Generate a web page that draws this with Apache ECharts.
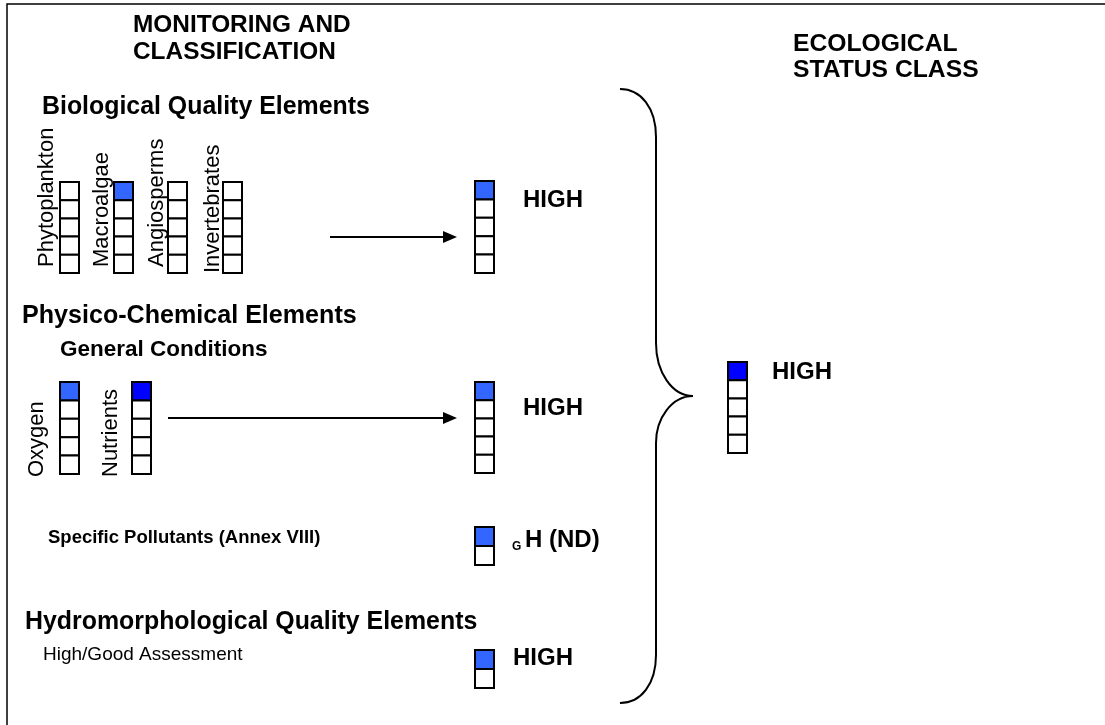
<!DOCTYPE html>
<html><head><meta charset="utf-8">
<script src="https://cdn.jsdelivr.net/npm/echarts@6/dist/echarts.min.js"></script>
<style>html,body{margin:0;padding:0;background:#fff}#c{width:1105px;height:725px}</style>
</head><body><div id="c"></div>
<script>
// ---------------- data ----------------
const bioCategories = ['Phytoplankton', 'Macroalgae', 'Angiosperms', 'Invertebrates'];
const bioStatus = [0, 1, 0, 0];            // class index filled (1 = High), 0 = none
const generalCategories = ['Oxygen', 'Nutrients'];
const generalStatus = [1, 1];
const resultNames = ['Biological', 'General Conditions', 'Specific Pollutants', 'Hydromorphological', 'Ecological Status'];
const resultClassCount = [5, 5, 2, 2, 5];
const resultStatus = [1, 1, 1, 1, 1];
const resultLabels = ['HIGH', 'HIGH', 'H (ND)', 'HIGH', 'HIGH'];
const resultPrefix = ['', '', 'G', '', ''];
const headings = ['MONITORING AND', 'CLASSIFICATION', 'ECOLOGICAL', 'STATUS CLASS',
  'Biological Quality Elements', 'Physico-Chemical Elements', 'General Conditions',
  'Specific Pollutants (Annex VIII)', 'Hydromorphological Quality Elements', 'High/Good Assessment'];

// ---------------- layout / style ----------------
const W = 1105, H = 725;
const FONT = '"Liberation Sans", Arial, sans-serif';
const CELL_W = 19;
const C_LIGHT = '#3366FF', C_DARK = '#0000FF';
const bioLayout = { x: [60, 114, 168, 223], top: 182, h: 18.2, color: [C_LIGHT, C_LIGHT, C_LIGHT, C_LIGHT],
  labelX: [47, 102, 157, 213], labelBottom: [267, 267, 267, 273] };
const genLayout = { x: [60, 132], top: 382, h: 18.4, color: [C_LIGHT, C_DARK],
  labelX: [37, 111], labelBottom: [477, 477] };
const resLayout = { x: [475, 475, 475, 475, 728], top: [181, 382, 527, 650, 362], h: [18.4, 18.2, 19, 19, 18.2],
  color: [C_LIGHT, C_LIGHT, C_LIGHT, C_LIGHT, C_DARK],
  labelX: [523, 523, 525, 513, 772], labelY: [200, 408, 540, 658, 372] };
const headLayout = [
  [133, 25, 24.4, 'bold'], [133, 52, 24.4, 'bold'], [793, 44, 24.7, 'bold'], [793, 70, 24.7, 'bold'],
  [42, 107, 24.9, 'bold'], [22, 316, 25.1, 'bold'], [60, 350, 22.5, 'bold'],
  [48, 538, 18.5, 'bold'], [25, 622, 24.9, 'bold'], [43, 655, 19, 'normal']
];
const arrowLayout = [[330, 457, 237], [168, 457, 418]];

// columns: [x, top, nCells, filled, cellH, colorIndex]
const columnColors = [];
const columnData = [];
function addCol(x, top, n, filled, h, color) {
  columnColors.push(color);
  columnData.push([x, top, n, filled, h, columnColors.length - 1]);
}
bioCategories.forEach((c, i) => addCol(bioLayout.x[i], bioLayout.top, 5, bioStatus[i], bioLayout.h, bioLayout.color[i]));
generalCategories.forEach((c, i) => addCol(genLayout.x[i], genLayout.top, 5, generalStatus[i], genLayout.h, genLayout.color[i]));
resultNames.forEach((c, i) => addCol(resLayout.x[i], resLayout.top[i], resultClassCount[i], resultStatus[i], resLayout.h[i], resLayout.color[i]));

// texts: [x, y, index]
const texts = [];
headings.forEach((t, i) => texts.push({ text: t, x: headLayout[i][0], y: headLayout[i][1], size: headLayout[i][2], weight: headLayout[i][3], rot: 0 }));
bioCategories.forEach((t, i) => texts.push({ text: t, x: bioLayout.labelX[i], y: bioLayout.labelBottom[i], size: 22, weight: 'normal', rot: Math.PI / 2 }));
generalCategories.forEach((t, i) => texts.push({ text: t, x: genLayout.labelX[i], y: genLayout.labelBottom[i], size: 22, weight: 'normal', rot: Math.PI / 2 }));
resultLabels.forEach((t, i) => {
  texts.push({ text: t, x: resLayout.labelX[i], y: resLayout.labelY[i], size: 24, weight: 'bold', rot: 0 });
  if (resultPrefix[i]) texts.push({ text: resultPrefix[i], x: resLayout.labelX[i] - 13, y: resLayout.labelY[i] + 7, size: 12, weight: 'bold', rot: 0 });
});
const textData = texts.map((t, i) => [t.x, t.y, i]);

const chart = echarts.init(document.getElementById('c'), null, { renderer: 'canvas' });
chart.setOption({
  animation: false,
  backgroundColor: '#fff',
  grid: { left: 0, right: 0, top: 0, bottom: 0 },
  xAxis: { type: 'value', min: 0, max: W, show: false },
  yAxis: { type: 'value', min: 0, max: H, inverse: true, show: false },
  series: [
    { // frame + brace
      type: 'custom', clip: false, silent: true, data: [[0, 0]],
      renderItem: function (params, api) {
        const c = (x, y) => api.coord([x, y]);
        const a = c(7, 4), b = c(W + 10, H + 10);
        const P = (x, y) => { const p = c(x, y); return p[0] + ' ' + p[1]; };
        const d = 'M' + P(620, 89) + ' C' + P(641, 89) + ' ' + P(656, 108) + ' ' + P(656, 137) +
          ' L' + P(656, 343) + ' C' + P(656, 372) + ' ' + P(672, 396) + ' ' + P(693, 396) +
          ' C' + P(672, 396) + ' ' + P(656, 418) + ' ' + P(656, 443) +
          ' L' + P(656, 655) + ' C' + P(656, 684) + ' ' + P(641, 703) + ' ' + P(620, 703);
        return { type: 'group', children: [
          { type: 'rect', shape: { x: a[0], y: a[1], width: b[0] - a[0], height: b[1] - a[1] }, style: { fill: 'none', stroke: '#000', lineWidth: 1.5 } },
          { type: 'path', shape: { pathData: d }, style: { fill: 'none', stroke: '#000', lineWidth: 2 } }
        ] };
      }
    },
    { // arrows
      type: 'custom', clip: false, silent: true, data: arrowLayout,
      renderItem: function (params, api) {
        const x1 = api.value(0), x2 = api.value(1), y = api.value(2);
        const p1 = api.coord([x1, y]), p2 = api.coord([x2, y]);
        const hl = 14, hw = 6;
        return { type: 'group', children: [
          { type: 'line', shape: { x1: p1[0], y1: p1[1], x2: p2[0] - hl + 1, y2: p2[1] }, style: { stroke: '#000', lineWidth: 2 } },
          { type: 'polygon', shape: { points: [[p2[0], p2[1]], [p2[0] - hl, p2[1] - hw], [p2[0] - hl, p2[1] + hw]] }, style: { fill: '#000' } }
        ] };
      }
    },
    { // class boxes
      type: 'custom', clip: false, silent: true, data: columnData,
      renderItem: function (params, api) {
        const x = api.value(0), top = api.value(1), n = api.value(2), filled = api.value(3), h = api.value(4), ci = api.value(5);
        const ch = [];
        for (let i = 0; i < n; i++) {
          const p0 = api.coord([x, top + i * h]);
          const p1 = api.coord([x + CELL_W, top + (i + 1) * h]);
          ch.push({ type: 'rect', shape: { x: p0[0], y: p0[1], width: p1[0] - p0[0], height: p1[1] - p0[1] },
            style: { fill: (i + 1 === filled) ? columnColors[ci] : '#fff', stroke: '#000', lineWidth: 2 } });
        }
        return { type: 'group', children: ch };
      }
    },
    { // texts
      type: 'custom', clip: false, silent: true, data: textData,
      renderItem: function (params, api) {
        const t = texts[api.value(2)];
        const p = api.coord([api.value(0), api.value(1)]);
        return { type: 'text', x: p[0], y: p[1], rotation: t.rot,
          style: { text: t.text, fill: '#000', fontSize: t.size, fontWeight: t.weight, fontFamily: FONT, align: 'left', verticalAlign: 'middle' } };
      }
    }
  ]
});
</script></body></html>
